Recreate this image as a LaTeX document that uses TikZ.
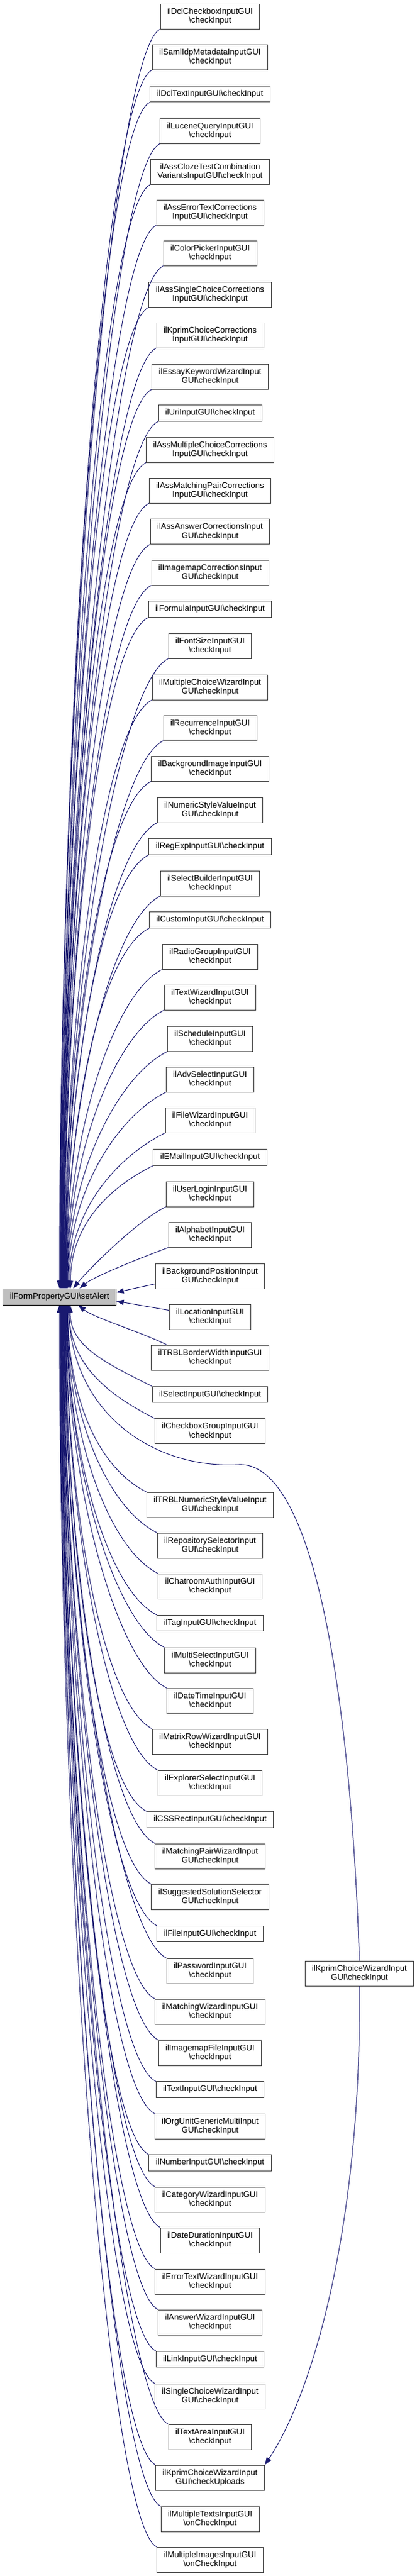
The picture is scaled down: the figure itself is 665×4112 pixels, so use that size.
\documentclass[tikz,border=0pt]{standalone}
\usepackage{fontspec}
\setmainfont{Liberation Sans}
\usetikzlibrary{arrows.meta,calc}
\definecolor{mblue}{HTML}{191970}
\definecolor{sagray}{HTML}{BFBFBF}
\newcommand\bsl{\textbackslash}
\newcommand\upE[3]{\draw[calledge] (#1.south west) .. controls +(-80pt,-40pt) and ({95+#2},{2057-0.45*(2057-#3)}) .. ([xshift=#2pt]sa.north);}
\newcommand\dnE[3]{\draw[calledge] (#1.north west) .. controls +(-80pt,40pt) and ({95+#2},{2083+0.45*(#3-2083)}) .. ([xshift=#2pt]sa.south);}
\begin{document}
\begin{tikzpicture}[x=1pt,y=-1pt,
  box/.style={draw=black!75,line width=0.9pt,fill=white,align=center,font=\fontsize{13.2}{14.7}\selectfont,inner xsep=11pt,inner ysep=0pt,minimum height=25.5pt},
  box2/.style={box,minimum height=40pt},
  calledge/.style={draw=mblue,line width=1pt,-{Triangle[length=12pt,width=8.5pt]}}]
\useasboundingbox (0,0) rectangle (665,4112);
\node[box,fill=sagray,draw=black,minimum height=26pt] (sa) at (95,2070) {ilFormPropertyGUI\bsl setAlert};
\node[box2] (n1) at (335.5,26) {ilDclCheckboxInputGUI\\\bsl checkInput};
\node[box2] (n2) at (335.5,91) {ilSamlIdpMetadataInputGUI\\\bsl checkInput};
\node[box] (n3) at (335.5,150) {ilDclTextInputGUI\bsl checkInput};
\node[box2] (n4) at (335.5,209) {ilLuceneQueryInputGUI\\\bsl checkInput};
\node[box2] (n5) at (335.5,274) {ilAssClozeTestCombination\\VariantsInputGUI\bsl checkInput};
\node[box2] (n6) at (335.5,339) {ilAssErrorTextCorrections\\InputGUI\bsl checkInput};
\node[box2] (n7) at (335.5,404) {ilColorPickerInputGUI\\\bsl checkInput};
\node[box2] (n8) at (335.5,470) {ilAssSingleChoiceCorrections\\InputGUI\bsl checkInput};
\node[box2] (n9) at (335.5,535) {ilKprimChoiceCorrections\\InputGUI\bsl checkInput};
\node[box2] (n10) at (335.5,601) {ilEssayKeywordWizardInput\\GUI\bsl checkInput};
\node[box] (n11) at (335.5,659.5) {ilUriInputGUI\bsl checkInput};
\node[box2] (n12) at (335.5,718) {ilAssMultipleChoiceCorrections\\InputGUI\bsl checkInput};
\node[box2] (n13) at (335.5,783) {ilAssMatchingPairCorrections\\InputGUI\bsl checkInput};
\node[box2] (n14) at (335.5,848.5) {ilAssAnswerCorrectionsInput\\GUI\bsl checkInput};
\node[box2] (n15) at (335.5,914) {ilImagemapCorrectionsInput\\GUI\bsl checkInput};
\node[box] (n16) at (335.5,972.5) {ilFormulaInputGUI\bsl checkInput};
\node[box2] (n17) at (335.5,1031) {ilFontSizeInputGUI\\\bsl checkInput};
\node[box2] (n18) at (335.5,1097) {ilMultipleChoiceWizardInput\\GUI\bsl checkInput};
\node[box2] (n19) at (335.5,1162) {ilRecurrenceInputGUI\\\bsl checkInput};
\node[box2] (n20) at (335.5,1227) {ilBackgroundImageInputGUI\\\bsl checkInput};
\node[box2] (n21) at (335.5,1293) {ilNumericStyleValueInput\\GUI\bsl checkInput};
\node[box] (n22) at (335.5,1351.5) {ilRegExpInputGUI\bsl checkInput};
\node[box2] (n23) at (335.5,1410) {ilSelectBuilderInputGUI\\\bsl checkInput};
\node[box] (n24) at (335.5,1468.5) {ilCustomInputGUI\bsl checkInput};
\node[box2] (n25) at (335.5,1527) {ilRadioGroupInputGUI\\\bsl checkInput};
\node[box2] (n26) at (335.5,1592) {ilTextWizardInputGUI\\\bsl checkInput};
\node[box2] (n27) at (335.5,1658) {ilScheduleInputGUI\\\bsl checkInput};
\node[box2] (n28) at (335.5,1723) {ilAdvSelectInputGUI\\\bsl checkInput};
\node[box2] (n29) at (335.5,1788) {ilFileWizardInputGUI\\\bsl checkInput};
\node[box] (n30) at (335.5,1847.5) {ilEMailInputGUI\bsl checkInput};
\node[box2] (n31) at (335.5,1906) {ilUserLoginInputGUI\\\bsl checkInput};
\node[box2] (n32) at (335.5,1971) {ilAlphabetInputGUI\\\bsl checkInput};
\node[box2] (n33) at (335.5,2037) {ilBackgroundPositionInput\\GUI\bsl checkInput};
\node[box2] (n34) at (335.5,2102) {ilLocationInputGUI\\\bsl checkInput};
\node[box2] (n35) at (335.5,2167) {ilTRBLBorderWidthInputGUI\\\bsl checkInput};
\node[box] (n36) at (335.5,2226) {ilSelectInputGUI\bsl checkInput};
\node[box2] (n37) at (335.5,2284.5) {ilCheckboxGroupInputGUI\\\bsl checkInput};
\node[box2] (n38) at (335.5,2402) {ilTRBLNumericStyleValueInput\\GUI\bsl checkInput};
\node[box2] (n39) at (335.5,2467) {ilRepositorySelectorInput\\GUI\bsl checkInput};
\node[box2] (n40) at (335.5,2532) {ilChatroomAuthInputGUI\\\bsl checkInput};
\node[box] (n41) at (335.5,2591) {ilTagInputGUI\bsl checkInput};
\node[box2] (n42) at (335.5,2650) {ilMultiSelectInputGUI\\\bsl checkInput};
\node[box2] (n43) at (335.5,2715) {ilDateTimeInputGUI\\\bsl checkInput};
\node[box2] (n44) at (335.5,2780) {ilMatrixRowWizardInputGUI\\\bsl checkInput};
\node[box2] (n45) at (335.5,2846) {ilExplorerSelectInputGUI\\\bsl checkInput};
\node[box] (n46) at (335.5,2904.5) {ilCSSRectInputGUI\bsl checkInput};
\node[box2] (n47) at (335.5,2963) {ilMatchingPairWizardInput\\GUI\bsl checkInput};
\node[box2] (n48) at (335.5,3028) {ilSuggestedSolutionSelector\\GUI\bsl checkInput};
\node[box] (n49) at (335.5,3087) {ilFileInputGUI\bsl checkInput};
\node[box2] (n50) at (335.5,3146) {ilPasswordInputGUI\\\bsl checkInput};
\node[box2] (n51) at (335.5,3211) {ilMatchingWizardInputGUI\\\bsl checkInput};
\node[box2] (n52) at (335.5,3277) {ilImagemapFileInputGUI\\\bsl checkInput};
\node[box] (n53) at (335.5,3335.5) {ilTextInputGUI\bsl checkInput};
\node[box2] (n54) at (335.5,3394) {ilOrgUnitGenericMultiInput\\GUI\bsl checkInput};
\node[box] (n55) at (335.5,3452.5) {ilNumberInputGUI\bsl checkInput};
\node[box2] (n56) at (335.5,3511) {ilCategoryWizardInputGUI\\\bsl checkInput};
\node[box2] (n57) at (335.5,3576) {ilDateDurationInputGUI\\\bsl checkInput};
\node[box2] (n58) at (335.5,3642) {ilErrorTextWizardInputGUI\\\bsl checkInput};
\node[box2] (n59) at (335.5,3707) {ilAnswerWizardInputGUI\\\bsl checkInput};
\node[box] (n60) at (335.5,3766) {ilLinkInputGUI\bsl checkInput};
\node[box2] (n61) at (335.5,3825) {ilSingleChoiceWizardInput\\GUI\bsl checkInput};
\node[box2] (n62) at (335.5,3890) {ilTextAreaInputGUI\\\bsl checkInput};
\node[box2] (n63) at (335.5,3955) {ilKprimChoiceWizardInput\\GUI\bsl checkUploads};
\node[box2] (n64) at (335.5,4021) {ilMultipleTextsInputGUI\\\bsl onCheckInput};
\node[box2] (n65) at (335.5,4086) {ilMultipleImagesInputGUI\\\bsl onCheckInput};
\node[box2] (R) at (574,3150) {ilKprimChoiceWizardInput\\GUI\bsl checkInput};
% upper callers
\upE{n1}{0}{26}
\upE{n2}{0.5}{91}
\upE{n3}{1}{150}
\upE{n4}{1.5}{209}
\upE{n5}{2}{274}
\upE{n6}{2.5}{339}
\upE{n7}{3}{404}
\upE{n8}{3.5}{470}
\upE{n9}{4}{535}
\upE{n10}{4.5}{601}
\upE{n11}{5}{659.5}
\upE{n12}{5.5}{718}
\upE{n13}{6}{783}
\upE{n14}{6.5}{848.5}
\upE{n15}{7}{914}
\upE{n16}{7.5}{972.5}
\upE{n17}{8}{1031}
\upE{n18}{8.5}{1097}
\upE{n19}{9}{1162}
\upE{n20}{9.5}{1227}
\upE{n21}{10}{1293}
\upE{n22}{10.5}{1351.5}
\upE{n23}{11}{1410}
\upE{n24}{11.5}{1468.5}
\upE{n25}{12}{1527}
\upE{n26}{12.5}{1592}
\upE{n27}{13}{1658}
\upE{n28}{14}{1723}
\upE{n29}{15.5}{1788}
\upE{n30}{17.5}{1847.5}
\draw[calledge] (n31.south west) .. controls +(-50pt,-25pt) and +(20pt,25pt) .. ([xshift=22pt]sa.north);
\draw[calledge] (n32.south west) .. controls +(-40pt,-15pt) and +(25pt,20pt) .. ([xshift=32pt]sa.north);
\draw[calledge] ([yshift=8pt]n33.south west) -- ([yshift=7pt]sa.east);
\draw[calledge] ([yshift=-10pt]n34.north west) -- ([yshift=-7pt]sa.east);
\draw[calledge] ([xshift=25pt]n35.north west) .. controls +(-40pt,20pt) and +(25pt,-20pt) .. ([xshift=30pt]sa.south);
% lower callers
\dnE{n36}{17}{2226}
\dnE{n37}{15.5}{2284.5}
\dnE{n38}{13.5}{2402}
\dnE{n39}{13}{2467}
\dnE{n40}{12.5}{2532}
\dnE{n41}{12}{2591}
\dnE{n42}{11.5}{2650}
\dnE{n43}{11}{2715}
\dnE{n44}{10.5}{2780}
\dnE{n45}{10}{2846}
\dnE{n46}{9.5}{2904.5}
\dnE{n47}{9}{2963}
\dnE{n48}{8.5}{3028}
\dnE{n49}{8}{3087}
\dnE{n50}{7.5}{3146}
\dnE{n51}{7}{3211}
\dnE{n52}{6.5}{3277}
\dnE{n53}{6}{3335.5}
\dnE{n54}{5.5}{3394}
\dnE{n55}{5}{3452.5}
\dnE{n56}{4.5}{3511}
\dnE{n57}{4}{3576}
\dnE{n58}{3.5}{3642}
\dnE{n59}{3}{3707}
\dnE{n60}{2.5}{3766}
\dnE{n61}{2}{3825}
\dnE{n62}{1.5}{3890}
\dnE{n63}{1}{3955}
\dnE{n64}{0.5}{4021}
\dnE{n65}{0}{4086}
% right node
\draw[calledge] (R.north) .. controls (560,2700) and (500,2330) .. (380,2338) .. controls (250,2345) and (115,2260) .. ([xshift=14.5pt]sa.south);
\draw[calledge] (R.south) .. controls (578,3550) and (500,3820) .. (n63.north east);
\end{tikzpicture}
\end{document}
